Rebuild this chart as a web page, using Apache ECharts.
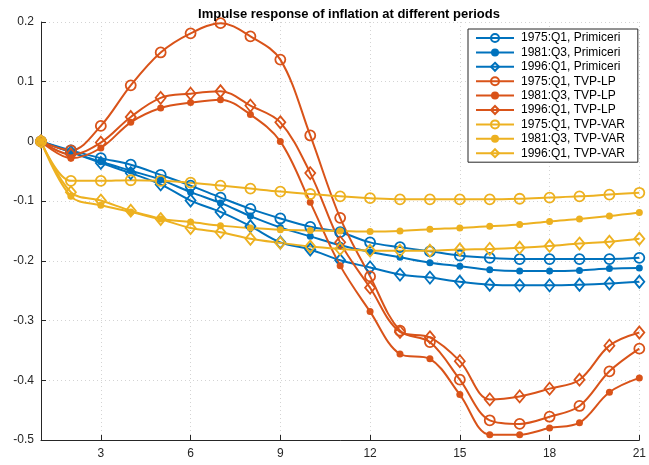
<!DOCTYPE html>
<html>
<head>
<meta charset="utf-8">
<title>Impulse response of inflation</title>
<script src="https://cdn.jsdelivr.net/npm/echarts@6/dist/echarts.min.js"></script>
<style>
  html, body { margin: 0; padding: 0; background: #fff; }
  #chart { width: 649px; height: 465px; }
</style>
</head>
<body>
<div id="chart"></div>
<script>
// Horizon (quarters after the shock)
const periods = ['1','2','3','4','5','6','7','8','9','10','11','12','13','14','15','16','17','18','19','20','21'];
const yTicks = { min: -0.5, max: 0.2, step: 0.1 };

// Primiceri
const prim1975 = [0, -0.015, -0.028, -0.039, -0.056, -0.074, -0.094, -0.113, -0.129, -0.143, -0.152, -0.169, -0.177, -0.184, -0.191, -0.195, -0.197, -0.197, -0.197, -0.197, -0.195];
const prim1981 = [0, -0.018, -0.034, -0.049, -0.064, -0.085, -0.103, -0.125, -0.144, -0.159, -0.174, -0.185, -0.194, -0.203, -0.209, -0.215, -0.217, -0.217, -0.216, -0.213, -0.212];
const prim1996 = [0, -0.018, -0.036, -0.053, -0.072, -0.099, -0.118, -0.142, -0.169, -0.181, -0.199, -0.211, -0.223, -0.228, -0.235, -0.240, -0.241, -0.241, -0.240, -0.238, -0.235];

// TVP-LP
const lp1975 = [0, -0.015, 0.026, 0.094, 0.149, 0.181, 0.198, 0.176, 0.137, 0.010, -0.128, -0.226, -0.317, -0.336, -0.399, -0.467, -0.473, -0.461, -0.443, -0.385, -0.347];
const lp1981 = [0, -0.028, -0.011, 0.032, 0.056, 0.065, 0.070, 0.045, 0.000, -0.102, -0.208, -0.285, -0.356, -0.364, -0.424, -0.491, -0.491, -0.480, -0.471, -0.420, -0.396];
const lp1996 = [0, -0.022, -0.002, 0.041, 0.073, 0.080, 0.084, 0.060, 0.032, -0.053, -0.169, -0.245, -0.319, -0.328, -0.368, -0.432, -0.427, -0.414, -0.399, -0.342, -0.320];

// TVP-VAR
const var1975 = [0, -0.066, -0.066, -0.065, -0.066, -0.069, -0.074, -0.079, -0.084, -0.088, -0.092, -0.095, -0.097, -0.097, -0.097, -0.097, -0.096, -0.094, -0.092, -0.089, -0.086];
const var1981 = [0, -0.092, -0.107, -0.118, -0.130, -0.135, -0.141, -0.145, -0.148, -0.149, -0.150, -0.151, -0.150, -0.147, -0.145, -0.142, -0.139, -0.134, -0.130, -0.125, -0.119];
const var1996 = [0, -0.085, -0.099, -0.116, -0.130, -0.145, -0.152, -0.163, -0.170, -0.176, -0.180, -0.183, -0.183, -0.183, -0.181, -0.180, -0.178, -0.175, -0.171, -0.168, -0.163];

const BLUE = '#0072BD', RED = '#D95319', YELLOW = '#EDB120';
const FONT = '"Liberation Sans", Arial, Helvetica, sans-serif';
const INK = '#262626';

// marker styles: open circle, filled dot, open diamond
function markerStyle(kind, color) {
  if (kind === 'o') return { symbol: 'circle', symbolSize: 10, itemStyle: { color: 'rgba(255,255,255,0)', borderColor: color, borderWidth: 1.8 } };
  if (kind === '.') return { symbol: 'circle', symbolSize: 7, itemStyle: { color: color, borderColor: color, borderWidth: 0 } };
  return { symbol: 'diamond', symbolSize: [10, 12], itemStyle: { color: 'rgba(255,255,255,0)', borderColor: color, borderWidth: 1.8 } };
}

function makeSeries(name, data, color, kind) {
  const m = markerStyle(kind, color);
  return Object.assign({
    name: name,
    type: 'line',
    data: data,
    smooth: 0.35,
    showSymbol: true,
    lineStyle: { color: color, width: 2 },
    emphasis: { disabled: true },
    animation: false
  }, m);
}

const series = [
  makeSeries('1975:Q1, Primiceri', prim1975, BLUE, 'o'),
  makeSeries('1981:Q3, Primiceri', prim1981, BLUE, '.'),
  makeSeries('1996:Q1, Primiceri', prim1996, BLUE, 'd'),
  makeSeries('1975:Q1, TVP-LP', lp1975, RED, 'o'),
  makeSeries('1981:Q3, TVP-LP', lp1981, RED, '.'),
  makeSeries('1996:Q1, TVP-LP', lp1996, RED, 'd'),
  makeSeries('1975:Q1, TVP-VAR', var1975, YELLOW, 'o'),
  makeSeries('1981:Q3, TVP-VAR', var1981, YELLOW, '.'),
  makeSeries('1996:Q1, TVP-VAR', var1996, YELLOW, 'd')
];

const gridLine = { show: true, lineStyle: { color: '#d4d4d4', type: [1, 3], width: 1 } };
const everyThird = function (index, value) { return Number(value) % 3 === 0; };

const chart = echarts.init(document.getElementById('chart'), null, { renderer: 'canvas' });
chart.setOption({
  backgroundColor: '#ffffff',
  animation: false,
  title: {
    text: 'Impulse response of inflation at different periods',
    left: 344,
    textAlign: 'center',
    top: 3,
    textStyle: { fontFamily: FONT, fontSize: 13, fontWeight: 'bold', color: '#000' }
  },
  grid: { left: 41, right: 9, top: 22, bottom: 25, containLabel: false },
  legend: {
    orient: 'vertical',
    left: 468,
    top: 29,
    padding: [3, 13, 3, 7],
    itemWidth: 38,
    itemHeight: 10,
    itemGap: 2.4,
    backgroundColor: '#ffffff',
    borderColor: INK,
    borderWidth: 1,
    borderRadius: 0,
    textStyle: { fontFamily: FONT, fontSize: 12, lineHeight: 12, color: '#000', padding: [0, 0, 0, 2] },
    data: series.map(s => s.name)
  },
  xAxis: {
    type: 'category',
    data: periods,
    boundaryGap: false,
    axisLine: { show: true, onZero: false, lineStyle: { color: INK, width: 1 } },
    axisTick: { show: true, inside: true, length: 5, interval: everyThird, lineStyle: { color: INK } },
    axisLabel: { interval: everyThird, margin: 8, fontFamily: FONT, fontSize: 12, color: INK },
    splitLine: Object.assign({ interval: everyThird }, gridLine)
  },
  yAxis: {
    type: 'value',
    min: yTicks.min,
    max: yTicks.max,
    interval: yTicks.step,
    axisLine: { show: true, lineStyle: { color: INK, width: 1 } },
    axisTick: { show: true, inside: true, length: 5, lineStyle: { color: INK } },
    axisLabel: {
      margin: 7, fontFamily: FONT, fontSize: 12, color: INK,
      formatter: v => String(Math.round(v * 10) / 10)
    },
    splitLine: gridLine
  },
  series: series
});
</script>
</body>
</html>
